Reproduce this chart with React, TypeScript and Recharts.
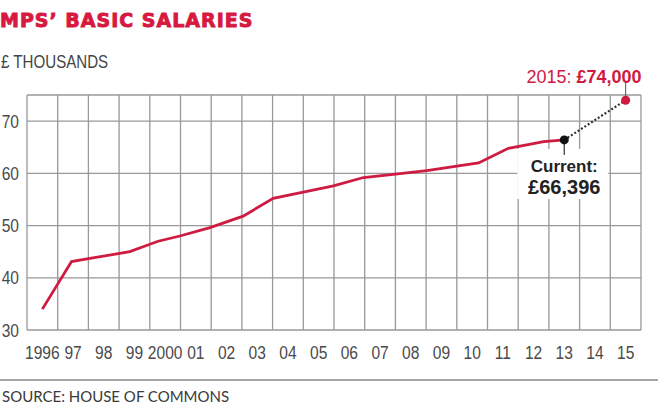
import { LineChart, Line, XAxis, YAxis, CartesianGrid, ReferenceDot } from "recharts";

// tick labels and axis values
const yearTicks = [1996, 1997, 1998, 1999, 2000, 2001, 2002, 2003, 2004, 2005, 2006, 2007, 2008, 2009, 2010, 2011, 2012, 2013, 2014, 2015];
const yearLabels = ["1996", "97", "98", "99", "2000", "01", "02", "03", "04", "05", "06", "07", "08", "09", "10", "11", "12", "13", "14", "15"];
const valueTicks = [30, 40, 50, 60, 70, 75];

// basic salary, £ thousands (points where the line bends)
const salaryYears = [1996, 1996.95, 1997.55, 1998.85, 1999.77, 2000.48, 2001.46, 2002.54, 2003.52, 2005.48, 2006.46, 2007.43, 2008.52, 2009.5, 2010.21, 2011.18, 2012.33, 2013];
const salaryValues = [34.0, 43.1, 43.7, 45.0, 47.0, 48.0, 49.6, 51.8, 55.2, 57.6, 59.2, 59.8, 60.5, 61.4, 62.0, 64.8, 66.06, 66.396];

// current salary to proposed 2015 rise
const projectionYears = [2013, 2015];
const projectionValues = [66.396, 74];

const salaryData = salaryYears.map((year, i) => ({ year, value: salaryValues[i] }));
const projectionData = projectionYears.map((year, i) => ({ year, value: projectionValues[i] }));
// grid lines sit between the years
const gridTicks = [...yearTicks.map((y) => y - 0.5), yearTicks[yearTicks.length - 1] + 0.5];
const xDomain = [gridTicks[0], gridTicks[gridTicks.length - 1]];

const RED = "#cf1a42";
const NARROW = "'Liberation Sans Narrow', 'Liberation Sans', sans-serif";

const money = (v: number) => "£" + Math.round(v * 1000).toLocaleString("en-GB");

function gridX({ xAxis, offset }: any) {
  return gridTicks.map((t) =>
    xAxis && typeof xAxis.scale === "function"
      ? xAxis.scale(t)
      : offset.left + ((t - xDomain[0]) / (xDomain[1] - xDomain[0])) * offset.width
  );
}

function YearTick({ x, y, payload }: any) {
  const label = yearLabels[yearTicks.indexOf(payload.value)];
  return (
    <text transform={`translate(${x},${y}) scale(0.82,1)`} textAnchor="middle" dy="0.35em" fontFamily={NARROW} fontSize={19} fill="#4a4a4a">
      {label}
    </text>
  );
}

function ValueTick({ x, y, payload }: any) {
  if (payload.value === 75) return null;
  return (
    <text transform={`translate(${x},${y}) scale(0.82,1)`} textAnchor="end" dy="0.35em" fontFamily={NARROW} fontSize={19} fill="#4a4a4a">
      {payload.value}
    </text>
  );
}

function CurrentLabel({ viewBox }: any) {
  const cx = viewBox.x + viewBox.width / 2;
  const cy = viewBox.y + viewBox.height / 2;
  return (
    <g>
      <rect x={cx - 47} y={cy + 9} width={91} height={50} fill="#fff" />
      <line x1={cx} x2={cx} y1={cy + 4} y2={cy + 15} stroke="#333" strokeWidth={1.2} />
      <text x={cx} y={cy + 26} textAnchor="middle" dy="0.35em" fontFamily={NARROW} fontWeight="bold" fontSize={17} fill="#222">
        Current:
      </text>
      <text x={cx} y={cy + 47} textAnchor="middle" dy="0.35em" fontFamily={NARROW} fontWeight="bold" fontSize={20} fill="#222">
        {money(projectionValues[0])}
      </text>
    </g>
  );
}

function TargetLabel({ viewBox }: any) {
  const cx = viewBox.x + viewBox.width / 2;
  const cy = viewBox.y + viewBox.height / 2;
  return (
    <g>
      <line x1={cx} x2={cx} y1={cy - 18} y2={cy - 4} stroke="#555" strokeWidth={1} />
      <text x={cx + 16} y={cy - 24} textAnchor="end" dy="0.35em" fontFamily={NARROW} fontSize={18} fill={RED}>
        {projectionYears[1]}: <tspan fontWeight="bold">{money(projectionValues[1])}</tspan>
      </text>
    </g>
  );
}

export default function App() {
  return (
    <div style={{ position: "relative", width: 658, height: 405, background: "#fff", overflow: "hidden" }}>
      <style>{"body{margin:0}"}</style>
      <svg width={658} height={405} style={{ position: "absolute", left: 0, top: 0 }}>
        <text x={0} y={27} fontFamily="'DejaVu Sans', sans-serif" fontWeight="bold" fontSize={19} letterSpacing={1} fill="#d7193f" stroke="#d7193f" strokeWidth={0.9}>
          MPS’ BASIC SALARIES
        </text>
        <text transform="translate(1,68) scale(0.84,1)" fontFamily={NARROW} fontSize={18} fill="#444">
          £ THOUSANDS
        </text>
        <line x1={0} x2={658} y1={380} y2={380} stroke="#8a8a8a" strokeWidth={1.5} />
        <text x={2} y={402} fontFamily="Lato, sans-serif" fontSize={15} fill="#3a3a3a">
          SOURCE: HOUSE OF COMMONS
        </text>
      </svg>
      <div style={{ position: "absolute", left: 0, top: 0 }}>
        <LineChart width={658} height={405} margin={{ top: 95, right: 17, bottom: 45, left: 0 }}>
          <XAxis
            xAxisId="years"
            type="number"
            dataKey="year"
            domain={xDomain}
            ticks={yearTicks}
            interval={0}
            allowDataOverflow
            axisLine={false}
            tickLine={false}
            tickSize={0}
            tickMargin={22}
            height={30}
            tick={<YearTick />}
          />
          <YAxis
            type="number"
            domain={[30, 75]}
            ticks={valueTicks}
            interval={0}
            allowDataOverflow
            axisLine={false}
            tickLine={false}
            tickSize={0}
            tickMargin={8}
            width={27}
            tick={<ValueTick />}
          />
          <CartesianGrid xAxisId="years" stroke="#999" strokeWidth={1.3} verticalCoordinatesGenerator={gridX} />
          <Line
            xAxisId="years"
            data={projectionData}
            dataKey="value"
            stroke="#333"
            strokeWidth={2.2}
            strokeDasharray="2 2"
            dot={false}
            activeDot={false}
            isAnimationActive={false}
          />
          <Line
            xAxisId="years"
            data={salaryData}
            dataKey="value"
            type="linear"
            stroke={RED}
            strokeWidth={2.8}
            dot={false}
            activeDot={false}
            isAnimationActive={false}
          />
          <ReferenceDot
            xAxisId="years"
            x={projectionYears[0]}
            y={projectionValues[0]}
            r={4.5}
            fill="#111"
            stroke="none"
            label={(p: any) => <CurrentLabel {...p} />}
          />
          <ReferenceDot
            xAxisId="years"
            x={projectionYears[1]}
            y={projectionValues[1]}
            r={4.5}
            fill={RED}
            stroke="none"
            label={(p: any) => <TargetLabel {...p} />}
          />
        </LineChart>
      </div>
    </div>
  );
}
